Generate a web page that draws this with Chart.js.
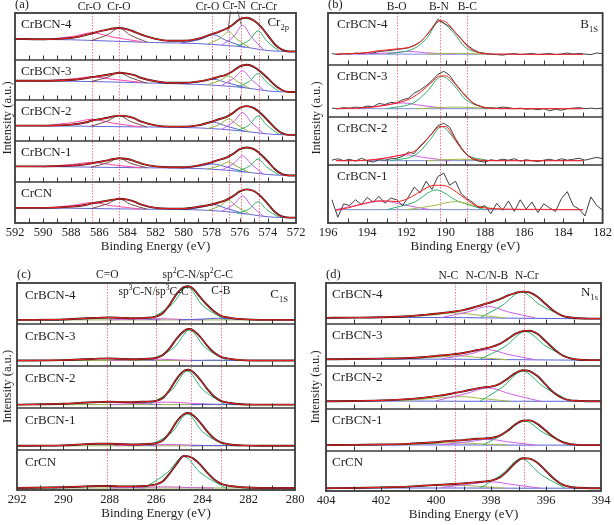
<!DOCTYPE html>
<html>
<head>
<meta charset="utf-8">
<script src="https://cdn.jsdelivr.net/npm/chart.js@4.4.0/dist/chart.umd.min.js"></script>
<style>
  html, body { margin: 0; padding: 0; background: #fff; }
  #wrap { position: relative; width: 614px; height: 525px; }
  canvas { position: absolute; left: 0; top: 0; }
</style>
</head>
<body>
<div id="wrap">
  <canvas id="panelA" width="614" height="525"></canvas>
  <canvas id="panelB" width="614" height="525"></canvas>
  <canvas id="panelC" width="614" height="525"></canvas>
  <canvas id="panelD" width="614" height="525"></canvas>
</div>
<script>
// ---------- (a) Cr 2p ----------
const crSamples = ['CrBCN-4', 'CrBCN-3', 'CrBCN-2', 'CrBCN-1', 'CrCN'];
const crX = [592,590,588,587,586.5,586,585.5,585,584.6,584,583.5,583,582,581,580,579,578,577.5,577,576.5,576,575.5,575,574.5,574,573.5,573,572.5,572];
const crFit4 = [.45,.44,.47,.53,.57,.61,.64,.67,.68,.65,.60,.54,.45,.41,.41,.45,.55,.60,.66,.75,.87,.90,.84,.71,.52,.33,.22,.18,.18];
const crFit3 = [.48,.48,.50,.54,.575,.60,.625,.66,.68,.66,.62,.55,.47,.43,.43,.46,.53,.58,.63,.72,.84,.88,.83,.70,.54,.37,.25,.20,.20];
const crFit2 = [.375,.375,.40,.45,.50,.53,.56,.60,.62,.60,.55,.47,.38,.35,.35,.38,.47,.53,.58,.68,.81,.85,.80,.67,.50,.32,.19,.15,.15];
const crFit1 = [.38,.38,.40,.43,.46,.49,.52,.56,.58,.56,.51,.45,.38,.36,.36,.40,.48,.54,.59,.68,.80,.84,.80,.67,.50,.31,.19,.16,.16];
const crFit0 = [.37,.37,.40,.44,.48,.51,.54,.57,.59,.57,.52,.45,.37,.35,.35,.39,.45,.50,.56,.65,.77,.82,.78,.65,.46,.27,.16,.13,.13];
const crBg4 = [[592,.44],[588,.43],[585,.40],[582,.37],[579,.35],[577,.31],[575.5,.27],[574.5,.22],[573.5,.19],[572,.18]];
const crBg3 = [[592,.48],[588,.47],[585,.45],[582,.42],[579,.39],[577,.35],[575.5,.30],[574.5,.25],[573.5,.21],[572,.20]];
const crBg2 = [[592,.375],[588,.365],[585,.35],[582,.34],[579,.32],[577,.28],[575.5,.23],[574.5,.19],[573.5,.16],[572,.15]];
const crBg1 = [[592,.38],[588,.37],[585,.355],[582,.345],[579,.33],[577,.29],[575.5,.24],[574.5,.20],[573.5,.17],[572,.16]];
const crBg0 = [[592,.37],[588,.36],[585,.345],[582,.335],[579,.32],[577,.28],[575.5,.22],[574.5,.17],[573.5,.14],[572,.13]];
// component order: Cr-O 586.5, Cr-O 584.6, Cr-O 578, Cr-N 576.8, Cr-N 575.8, Cr-Cr 574.7
const crPk4 = [
  [[590,.43],[587.9,.50],[586.5,.58],[585.1,.49],[583,.39]],
  [[586.6,.41],[585.4,.54],[584.6,.68],[583.8,.53],[582.6,.38]],
  [[580.2,.36],[578.8,.44],[577.9,.54],[577,.42],[575.6,.27]],
  [[578.3,.34],[577.4,.46],[576.8,.60],[576.2,.44],[575.3,.26]],
  [[577.3,.31],[576.4,.51],[575.8,.74],[575.2,.50],[574.3,.22]],
  [[576.2,.29],[575.3,.43],[574.7,.62],[574.1,.41],[573.2,.19]]
];
const crPk3 = [
  [[590,.48],[587.9,.53],[586.5,.58],[585.1,.52],[583,.44]],
  [[586.6,.46],[585.4,.57],[584.6,.68],[583.8,.56],[582.6,.42]],
  [[580.2,.41],[578.8,.46],[577.9,.52],[577,.44],[575.6,.31]],
  [[578.3,.38],[577.4,.49],[576.8,.60],[576.2,.47],[575.3,.29]],
  [[577.3,.36],[576.4,.55],[575.8,.73],[575.2,.52],[574.3,.25]],
  [[576.2,.33],[575.3,.47],[574.7,.66],[574.1,.45],[573.2,.21]]
];
const crPk2 = [
  [[590,.37],[587.9,.45],[586.5,.53],[585.1,.44],[583,.34]],
  [[586.6,.36],[585.4,.49],[584.6,.62],[583.8,.48],[582.6,.34]],
  [[580.2,.33],[578.8,.39],[577.9,.46],[577,.37],[575.6,.23]],
  [[578.3,.30],[577.4,.41],[576.8,.54],[576.2,.40],[575.3,.22]],
  [[577.3,.28],[576.4,.48],[575.8,.69],[575.2,.46],[574.3,.18]],
  [[576.2,.25],[575.3,.40],[574.7,.61],[574.1,.39],[573.2,.16]]
];
const crPk1 = [
  [[590,.37],[587.9,.43],[586.5,.48],[585.1,.42],[583,.345]],
  [[586.6,.36],[585.4,.47],[584.6,.58],[583.8,.46],[582.6,.345]],
  [[580.2,.34],[578.8,.39],[577.9,.44],[577,.37],[575.6,.24]],
  [[578.3,.31],[577.4,.40],[576.8,.49],[576.2,.38],[575.3,.23]],
  [[577.3,.29],[576.4,.46],[575.8,.64],[575.2,.44],[574.3,.19]],
  [[576.2,.26],[575.3,.39],[574.7,.56],[574.1,.37],[573.2,.17]]
];
const crPk0 = [
  [[590,.36],[587.9,.43],[586.5,.50],[585.1,.42],[583,.34]],
  [[586.6,.35],[585.4,.47],[584.6,.59],[583.8,.46],[582.6,.335]],
  [[580.2,.33],[578.8,.38],[577.9,.45],[577,.36],[575.6,.22]],
  [[578.3,.30],[577.4,.42],[576.8,.55],[576.2,.40],[575.3,.21]],
  [[577.3,.28],[576.4,.46],[575.8,.66],[575.2,.43],[574.3,.16]],
  [[576.2,.23],[575.3,.35],[574.7,.52],[574.1,.33],[573.2,.14]]
];
const crLines = [586.5, 584.6, 578.0, 576.8, 575.9, 574.6];

// ---------- (b) B 1s ----------
const boSamples = ['CrBCN-4', 'CrBCN-3', 'CrBCN-2', 'CrBCN-1'];
const boX = [195.8,195.5,195.2,194.9,194.6,194.3,194.0,193.7,193.4,193.1,192.8,192.5,192.2,191.9,191.6,191.3,191.0,190.7,190.4,190.1,189.8,189.5,189.2,188.9,188.6,188.3,188.0,187.7,187.4,187.1,186.8,186.5,186.2,185.9,185.6,185.3,185.0,184.7,184.4,184.1,183.8,183.5,183.2,182.9,182.6,182.3,182.0];
const boRaw4 = [.22,.20,.22,.21,.23,.22,.24,.23,.26,.27,.28,.30,.31,.33,.38,.44,.56,.70,.88,.80,.74,.62,.50,.38,.30,.24,.22,.21,.20,.19,.21,.22,.20,.21,.22,.20,.21,.22,.20,.21,.23,.21,.22,.21,.20,.23,.22];
const boRaw3 = [.17,.16,.18,.17,.19,.18,.21,.20,.26,.24,.28,.27,.33,.36,.46,.52,.60,.70,.82,.88,.80,.64,.50,.38,.26,.21,.17,.18,.17,.19,.18,.16,.17,.15,.16,.14,.16,.12,.15,.13,.16,.17,.18,.16,.17,.16,.17];
const boRaw2 = [.10,.13,.09,.12,.08,.14,.09,.06,.11,.10,.13,.14,.18,.27,.24,.40,.52,.66,.82,.87,.79,.55,.36,.20,.12,.08,.06,.11,.09,.12,.10,.13,.08,.11,.09,.07,.10,.12,.09,.13,.10,.12,.14,.10,.13,.16,.13];
const boRaw1 = [.40,.10,.33,.30,.40,.32,.44,.36,.46,.34,.43,.40,.30,.45,.62,.52,.72,.58,.80,.86,.65,.72,.50,.42,.35,.26,.30,.16,.34,.22,.38,.20,.40,.24,.36,.18,.33,.26,.20,.42,.54,.30,.24,.12,.45,.30,.22];
const boFitX = [195.6,195,194,193.5,193,192.5,192,191.5,191,190.6,190.3,190,189.6,189.2,188.8,188.4,188,187.5,187,186,185,184,183];
const boFit4 = [.21,.215,.24,.27,.29,.31,.33,.39,.56,.76,.85,.83,.67,.49,.33,.25,.22,.21,.21,.205,.205,.205,.205];
const boFit3 = [.16,.165,.18,.20,.23,.27,.32,.42,.57,.71,.79,.79,.67,.49,.33,.23,.18,.165,.16,.16,.16,.16,.16];
const boFit2 = [.09,.09,.10,.12,.15,.19,.23,.31,.51,.70,.80,.80,.58,.34,.18,.11,.095,.09,.09,.09,.09,.09,.09];
const boFit1 = [.22,.26,.35,.38,.38,.37,.41,.50,.60,.65,.65,.64,.57,.47,.37,.29,.26,.245,.24,.235,.235,.23,.23];
const boBg4 = [[195.6,.21],[183,.205]];
const boBg3 = [[195.6,.16],[183,.16]];
const boBg2 = [[195.6,.09],[183,.09]];
const boBg1 = [[195.6,.23],[183,.23]];
// component order: B-O, B-N, B-C
const boPk4 = [
  [[194.5,.21],[193,.23],[191.9,.26],[190.8,.23],[189.5,.21]],
  [[193,.21],[191.6,.32],[191,.50],[190.3,.84],[189.6,.62],[189,.34],[187.8,.21]],
  [[191,.21],[189.5,.225],[188,.21]]
];
const boPk3 = [
  [[194.5,.165],[193.2,.22],[192.2,.27],[191.2,.22],[190,.165]],
  [[193,.16],[191.6,.28],[191,.47],[190.2,.78],[189.6,.62],[189,.34],[187.8,.16]],
  [[191.5,.16],[189.5,.19],[187.5,.16]]
];
const boPk2 = [
  [[194,.09],[193,.15],[192,.21],[191,.15],[189.8,.09]],
  [[192.8,.09],[191.5,.22],[190.9,.47],[190.2,.80],[189.6,.56],[189,.24],[187.8,.09]],
  [[191,.09],[189.3,.12],[187.8,.09]]
];
const boPk1 = [
  [[195.6,.23],[194.3,.32],[193.2,.38],[192.1,.31],[190.8,.23]],
  [[193,.23],[191.6,.36],[190.5,.57],[189.4,.38],[188,.23]],
  [[192,.23],[190.6,.30],[189.5,.37],[188.4,.29],[187,.23]]
];
const boLines = [192.5, 190.3, 188.9];

// ---------- (c) C 1s ----------
const ccSamples = ['CrBCN-4', 'CrBCN-3', 'CrBCN-2', 'CrBCN-1', 'CrCN'];
const ccX = [292,290,289,288.5,288,287.5,287,286.5,286,285.7,285.4,285.1,284.8,284.6,284.4,284.1,283.8,283.5,283.2,282.8,282.3,281.5,280.5,280];
const ccFit4 = [.10,.11,.14,.15,.16,.15,.14,.15,.18,.27,.48,.74,.90,.92,.86,.66,.47,.31,.20,.15,.12,.10,.10,.10];
const ccFit3 = [.13,.14,.16,.175,.18,.17,.16,.17,.19,.26,.43,.66,.83,.88,.85,.70,.49,.32,.22,.17,.14,.13,.13,.13];
const ccFit2 = [.08,.10,.13,.14,.15,.14,.14,.15,.17,.24,.44,.70,.88,.91,.86,.68,.46,.28,.17,.12,.09,.08,.08,.08];
const ccFit1 = [.10,.11,.14,.15,.15,.14,.13,.14,.16,.23,.42,.68,.85,.88,.83,.66,.45,.28,.18,.13,.11,.10,.10,.10];
const ccFit0 = [.05,.07,.09,.10,.10,.09,.09,.10,.14,.22,.42,.66,.85,.84,.79,.64,.44,.27,.16,.10,.07,.05,.05,.05];
const ccBg4 = [[292,.10],[280,.10]];
const ccBg3 = [[292,.13],[280,.13]];
const ccBg2 = [[292,.08],[280,.08]];
const ccBg1 = [[292,.10],[280,.10]];
const ccBg0 = [[292,.05],[280,.05]];
// component order: C=O, sp3 C-N/C-C, sp2 C-N/C-C, C-B
const ccPk4 = [
  [[290.5,.10],[289,.13],[288,.155],[287,.13],[285.8,.10]],
  [[288,.10],[286.8,.12],[285.8,.13],[284.8,.11],[284,.10]],
  [[286.3,.10],[285.3,.48],[284.65,.90],[284,.46],[283,.10]],
  [[285,.10],[284,.12],[283.3,.14],[282.6,.12],[281.5,.10]]
];
const ccPk3 = [
  [[290.3,.13],[289.2,.16],[288.2,.18],[287.2,.16],[286,.13]],
  [[288,.13],[286.8,.15],[285.8,.16],[284.8,.14],[284,.13]],
  [[286.3,.13],[285.2,.45],[284.55,.86],[283.9,.45],[282.9,.13]],
  [[284.5,.13],[283.5,.14],[282.5,.13]]
];
const ccPk2 = [
  [[290.5,.08],[289.2,.12],[288.1,.15],[287,.12],[285.8,.08]],
  [[288,.08],[286.6,.12],[285.5,.14],[284.4,.11],[283.3,.08]],
  [[286.3,.08],[285.3,.44],[284.65,.88],[284,.45],[283,.08]],
  [[284.5,.08],[283.4,.09],[282.3,.08]]
];
const ccPk1 = [
  [[290.5,.10],[289.3,.13],[288.3,.15],[287.2,.13],[286,.10]],
  [[287.8,.10],[286.5,.12],[285.4,.13],[284.3,.115],[283.2,.10]],
  [[286.3,.10],[285.3,.43],[284.65,.86],[284,.44],[283,.10]],
  [[284.5,.10],[283.4,.11],[282.3,.10]]
];
const ccPk0 = [
  [[290.5,.05],[289.5,.08],[288.5,.10],[287.5,.08],[286.5,.05]],
  [[288,.05],[286.5,.07],[285.5,.08],[284.5,.06],[283.5,.05]],
  [[286.5,.05],[285.5,.44],[284.8,.84],[284.1,.44],[283,.05]],
  []
];
const ccLines = [288.1, 286.0, 284.5, 283.2];

// ---------- (d) N 1s ----------
const nnSamples = ['CrBCN-4', 'CrBCN-3', 'CrBCN-2', 'CrBCN-1', 'CrCN'];
const nnX = [404,403,402,401,400.5,400,399.5,399,398.5,398.2,398,397.7,397.4,397.1,396.85,396.6,396.3,396,395.7,395.4,395.1,394.8,394.4,394];
const nnFit4 = [.15,.155,.165,.19,.22,.25,.29,.34,.43,.49,.53,.60,.69,.76,.79,.77,.66,.48,.31,.20,.16,.14,.13,.13];
const nnFit3 = [.16,.165,.175,.19,.21,.24,.27,.31,.38,.42,.45,.52,.64,.77,.83,.84,.76,.58,.40,.25,.18,.15,.14,.14];
const nnFit2 = [.18,.185,.20,.23,.26,.30,.35,.41,.48,.51,.52,.58,.70,.84,.90,.88,.76,.56,.37,.25,.20,.19,.18,.18];
const nnFit1 = [.14,.145,.155,.17,.19,.21,.24,.26,.29,.30,.31,.36,.48,.64,.72,.73,.64,.48,.32,.21,.16,.145,.14,.14];
const nnFit0 = [.07,.075,.09,.11,.13,.15,.17,.19,.22,.24,.26,.33,.50,.71,.82,.81,.70,.50,.30,.16,.10,.08,.07,.07];
const nnBg4 = [[404,.15],[401,.16],[399,.155],[397,.14],[395,.13],[394,.125]];
const nnBg3 = [[404,.16],[401,.165],[399,.16],[397,.15],[395,.14],[394,.14]];
const nnBg2 = [[404,.18],[401,.185],[399,.18],[397,.18],[394,.18]];
const nnBg1 = [[404,.14],[401,.145],[399,.145],[397,.14],[394,.14]];
const nnBg0 = [[404,.07],[401,.075],[399,.075],[397,.07],[394,.07]];
// component order: N-C, N-C/N-B, N-Cr
const nnPk4 = [
  [[401.2,.17],[400.1,.22],[399.3,.27],[398.5,.22],[397.5,.15]],
  [[399.8,.16],[398.8,.30],[398.1,.43],[397.4,.30],[396.4,.15]],
  [[398.4,.15],[397.6,.45],[396.9,.78],[396.2,.46],[395.2,.14]]
];
const nnPk3 = [
  [[401,.17],[400,.21],[399.2,.24],[398.4,.20],[397.4,.15]],
  [[399.8,.17],[398.8,.28],[398.1,.39],[397.4,.28],[396.4,.15]],
  [[398.4,.16],[397.5,.46],[396.75,.82],[396,.47],[395,.14]]
];
const nnPk2 = [
  [[401.3,.19],[400,.25],[399.1,.29],[398.3,.24],[397.3,.18]],
  [[400,.19],[398.9,.36],[398.1,.49],[397.3,.35],[396.2,.18]],
  [[398.4,.18],[397.6,.50],[396.85,.88],[396.1,.52],[395.1,.18]]
];
const nnPk1 = [
  [[401.3,.15],[400.2,.18],[399.3,.20],[398.4,.17],[397.4,.14]],
  [[399.8,.15],[398.8,.22],[398.1,.28],[397.4,.22],[396.4,.14]],
  [[398.3,.14],[397.5,.42],[396.8,.72],[396.1,.44],[395.1,.14]]
];
const nnPk0 = [
  [[401.5,.09],[400.4,.13],[399.5,.15],[398.5,.12],[397.5,.07]],
  [[399.8,.09],[398.8,.17],[398,.23],[397.2,.16],[396.2,.07]],
  [[398.4,.07],[397.6,.42],[396.9,.81],[396.2,.42],[395.3,.07]]
];
const nnLines = [399.3, 398.2, 396.8];

// ---------- drawing ----------
const FONT = '"Liberation Serif", "Times New Roman", serif';
const font = sz => sz + 'px ' + FONT;
const zip = (xs, ys) => xs.map((x, i) => [x, ys[i]]);

const panels = [
  {
    id: 'panelA', letter: '(a)', frame: {l: 15, r: 296, t: 13, b: 223}, rows: [13, 60, 100, 141, 182, 223],
    xMin: 572, xMax: 592, yw: 15, xh: 32, lines: crLines,
    peakColors: ['#ff4aa8', '#7a4646', '#5561d8', '#8fae3c', '#c45ce9', '#2db36b'], bgColor: '#6466d8',
    names: crSamples, nameDx: 6, nameDy: 12,
    subs: [
      {fit: zip(crX, crFit4), bg: crBg4, peaks: crPk4},
      {fit: zip(crX, crFit3), bg: crBg3, peaks: crPk3},
      {fit: zip(crX, crFit2), bg: crBg2, peaks: crPk2},
      {fit: zip(crX, crFit1), bg: crBg1, peaks: crPk1},
      {fit: zip(crX, crFit0), bg: crBg0, peaks: crPk0}
    ],
    labels: [
      {parts: [['Cr-O']], ev: 586.7, y: 7}, {parts: [['Cr-O']], ev: 584.6, y: 7},
      {parts: [['Cr-O']], ev: 578.3, y: 7}, {parts: [['Cr-N']], ev: 576.4, y: 6},
      {parts: [['Cr-Cr']], ev: 574.3, y: 7}
    ],
    tag: {parts: [['Cr'], ['2p', 'sub']], x: 289, y: 23},
    arrows: [[576.65, 11, 576.85, 31], [576.15, 11, 575.9, 25]]
  },
  {
    id: 'panelB', letter: '(b)', frame: {l: 328, r: 604, t: 13, b: 223}, rows: [13, 65, 117, 165, 223],
    xMin: 182, xMax: 196, yw: 19, xh: 32, lines: boLines,
    peakColors: ['#cc5ee6', '#2db36b', '#a6b84a'], bgColor: '#7a8ad8',
    names: boSamples, nameDx: 9, nameDy: 12,
    subs: [
      {fit: zip(boFitX, boFit4), raw: zip(boX, boRaw4), bg: boBg4, peaks: boPk4},
      {fit: zip(boFitX, boFit3), raw: zip(boX, boRaw3), bg: boBg3, peaks: boPk3},
      {fit: zip(boFitX, boFit2), raw: zip(boX, boRaw2), bg: boBg2, peaks: boPk2},
      {fit: zip(boFitX, boFit1), raw: zip(boX, boRaw1), bg: boBg1, peaks: boPk1}
    ],
    labels: [
      {parts: [['B-O']], ev: 192.5, y: 7}, {parts: [['B-N']], ev: 190.35, y: 7}, {parts: [['B-C']], ev: 188.9, y: 7}
    ],
    tag: {parts: [['B'], ['1S', 'sub']], x: 598, y: 25},
    arrows: []
  },
  {
    id: 'panelC', letter: '(c)', frame: {l: 17, r: 295, t: 283, b: 490}, rows: [283, 324, 366, 408, 450, 490],
    xMin: 280, xMax: 292, yw: 17, xh: 32, lines: ccLines,
    peakColors: ['#9b6ad8', '#d460d0', '#2db36b', '#5561d8'], bgColor: '#8fb050',
    names: ccSamples, nameDx: 8, nameDy: 13,
    subs: [
      {fit: zip(ccX, ccFit4), bg: ccBg4, peaks: ccPk4},
      {fit: zip(ccX, ccFit3), bg: ccBg3, peaks: ccPk3},
      {fit: zip(ccX, ccFit2), bg: ccBg2, peaks: ccPk2},
      {fit: zip(ccX, ccFit1), bg: ccBg1, peaks: ccPk1},
      {fit: zip(ccX, ccFit0), bg: ccBg0, peaks: ccPk0}
    ],
    labels: [
      {parts: [['C=O']], ev: 288.1, y: 275},
      {parts: [['sp'], ['2', 'sup'], ['C-N/sp'], ['2', 'sup'], ['C-C']], ev: 284.2, y: 275},
      {parts: [['sp'], ['3', 'sup'], ['C-N/sp'], ['3', 'sup'], ['C-C']], ev: 286.1, y: 292},
      {parts: [['C-B']], ev: 283.2, y: 291}
    ],
    tag: {parts: [['C'], ['1S', 'sub']], x: 288, y: 295},
    arrows: []
  },
  {
    id: 'panelD', letter: '(d)', frame: {l: 326, r: 601, t: 283, b: 491}, rows: [283, 324, 366, 409, 451, 491],
    xMin: 394, xMax: 404, yw: 18, xh: 32, lines: nnLines,
    peakColors: ['#a6b84a', '#cc5ee6', '#2db36b'], bgColor: '#5561d8',
    names: nnSamples, nameDx: 6, nameDy: 12,
    subs: [
      {fit: zip(nnX, nnFit4), bg: nnBg4, peaks: nnPk4},
      {fit: zip(nnX, nnFit3), bg: nnBg3, peaks: nnPk3},
      {fit: zip(nnX, nnFit2), bg: nnBg2, peaks: nnPk2},
      {fit: zip(nnX, nnFit1), bg: nnBg1, peaks: nnPk1},
      {fit: zip(nnX, nnFit0), bg: nnBg0, peaks: nnPk0}
    ],
    labels: [
      {parts: [['N-C']], ev: 399.55, y: 276}, {parts: [['N-C/N-B']], ev: 398.15, y: 276}, {parts: [['N-Cr']], ev: 396.7, y: 276}
    ],
    tag: {parts: [['N'], ['1s', 'sub']], x: 598, y: 293},
    arrows: []
  }
];

// subplot value (0..1 of its row) -> y value on the panel scale (pixels above frame bottom)
function toY(P, row, v) {
  const top = P.rows[row], bot = P.rows[row + 1];
  return (P.frame.b - bot) + v * (bot - top);
}

function buildDatasets(P) {
  const ds = [];
  P.subs.forEach((s, r) => {
    const line = (pairs, color, w, smooth) => ds.push({
      data: pairs.map(p => ({x: p[0], y: toY(P, r, p[1])})),
      borderColor: color, borderWidth: w, pointRadius: 0, fill: false,
      cubicInterpolationMode: smooth ? 'monotone' : 'default', tension: 0
    });
    line(s.bg, P.bgColor, 1, true);
    s.peaks.forEach((pk, k) => { if (pk.length) line(pk, P.peakColors[k], 1, true); });
    if (s.raw) line(s.raw, '#2a2a2a', 0.9, false);
    else line(s.fit, '#2a1c1c', 1.9, true);
    line(s.fit, '#ff1e1e', 1, true);
  });
  return ds.reverse();
}

function drawRich(ctx, parts, x, y, size, align) {
  const sizeOf = p => p[1] ? size * 0.66 : size;
  let w = 0;
  parts.forEach(p => { ctx.font = font(sizeOf(p)); w += ctx.measureText(p[0]).width; });
  let cx = align === 'center' ? x - w / 2 : align === 'right' ? x - w : x;
  ctx.textAlign = 'left';
  ctx.textBaseline = 'middle';
  parts.forEach(p => {
    ctx.font = font(sizeOf(p));
    const dy = p[1] === 'sup' ? -size * 0.33 : p[1] === 'sub' ? size * 0.33 : 0;
    ctx.fillText(p[0], cx, y + dy);
    cx += ctx.measureText(p[0]).width;
  });
}

function makeDeco(P) {
  return {
    id: 'deco' + P.id,
    beforeDatasetsDraw(chart) {
      const {ctx, chartArea: a, scales: {x}} = chart;
      ctx.save();
      ctx.strokeStyle = '#ff7585';
      ctx.lineWidth = 1;
      ctx.setLineDash([1.5, 1.5]);
      P.lines.forEach(v => {
        const px = Math.round(x.getPixelForValue(v)) + 0.5;
        ctx.beginPath();
        ctx.moveTo(px, a.top);
        ctx.lineTo(px, a.bottom);
        ctx.stroke();
      });
      ctx.restore();
    },
    afterDatasetsDraw(chart) {
      const {ctx, chartArea: a, scales: {x, y}} = chart;
      ctx.save();
      ctx.strokeStyle = '#333';
      // inner ticks on every row
      ctx.lineWidth = 1;
      ctx.beginPath();
      for (let r = 1; r < P.rows.length; r++) {
        const yb = y.getPixelForValue(P.frame.b - P.rows[r]);
        for (let v = P.xMin + 1; v < P.xMax; v += 1) {
          const px = Math.round(x.getPixelForValue(v)) + 0.5;
          ctx.moveTo(px, yb);
          ctx.lineTo(px, yb - 4.5);
        }
      }
      ctx.stroke();
      // row separators
      ctx.strokeStyle = '#3a3a3a';
      ctx.lineWidth = 1.7;
      ctx.beginPath();
      for (let r = 1; r < P.rows.length - 1; r++) {
        const yb = y.getPixelForValue(P.frame.b - P.rows[r]);
        ctx.moveTo(a.left, yb);
        ctx.lineTo(a.right, yb);
      }
      ctx.stroke();
      // frame
      ctx.lineWidth = 1.8;
      ctx.strokeRect(a.left, a.top, a.right - a.left, a.bottom - a.top);
      // arrows for doublet labels
      ctx.lineWidth = 0.8;
      ctx.strokeStyle = '#444';
      P.arrows.forEach(ar => {
        ctx.beginPath();
        ctx.moveTo(x.getPixelForValue(ar[0]), ar[1]);
        ctx.lineTo(x.getPixelForValue(ar[2]), ar[3]);
        ctx.stroke();
      });
      // texts
      ctx.fillStyle = '#1e1e1e';
      P.names.forEach((n, r) => drawRich(ctx, [[n]], P.frame.l + P.nameDx, P.rows[r] + P.nameDy, 13, 'left'));
      drawRich(ctx, [[P.letter]], P.frame.l, P.frame.t - 8, 12.5, 'left');
      P.labels.forEach(l => drawRich(ctx, l.parts, x.getPixelForValue(l.ev), l.y, 11.5, 'center'));
      drawRich(ctx, P.tag.parts, P.tag.x, P.tag.y, 13, 'right');
      ctx.restore();
    }
  };
}

function makeChart(P) {
  new Chart(document.getElementById(P.id), {
    type: 'line',
    data: {datasets: buildDatasets(P)},
    options: {
      responsive: false,
      animation: false,
      devicePixelRatio: 1,
      layout: {padding: {left: P.frame.l - P.yw, right: 614 - P.frame.r, top: P.frame.t, bottom: 525 - P.frame.b - P.xh}},
      plugins: {legend: {display: false}, tooltip: {enabled: false}},
      scales: {
        x: {
          type: 'linear', reverse: true, min: P.xMin, max: P.xMax,
          grid: {display: false, drawTicks: false}, border: {display: false},
          ticks: {stepSize: 2, padding: 2, color: '#1e1e1e', maxRotation: 0, autoSkip: false,
                  font: {family: FONT, size: 12.5}, callback: v => v},
          title: {display: true, text: 'Binding Energy (eV)', color: '#1e1e1e',
                  font: {family: FONT, size: 13}, padding: {top: 0, bottom: 1}},
          afterFit: s => { s.height = P.xh; }
        },
        y: {
          type: 'linear', min: 0, max: P.frame.b - P.frame.t,
          grid: {display: false, drawTicks: false}, border: {display: false},
          ticks: {display: false},
          title: {display: true, text: 'Intensity (a.u.)', color: '#1e1e1e',
                  font: {family: FONT, size: 12.5}, padding: {top: 0, bottom: 0}},
          afterFit: s => { s.width = P.yw; }
        }
      }
    },
    plugins: [makeDeco(P)]
  });
}

panels.forEach(makeChart);
</script>
</body>
</html>
